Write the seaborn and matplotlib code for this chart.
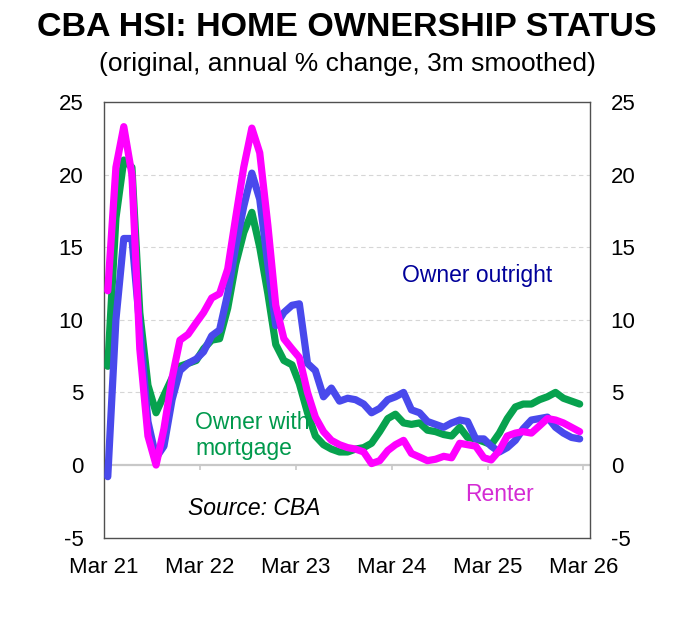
import pandas as pd
import numpy as np
import matplotlib
matplotlib.use("Agg")
import matplotlib.pyplot as plt
import seaborn as sns

# monthly data, Mar 2021 - Feb 2026 (annual % change, 3m smoothed)
months = pd.date_range("2021-03-01", periods=60, freq="MS") + pd.Timedelta(days=14)

owner_outright = [
    -0.8, 10.0, 15.6, 15.6, 9.5, 3.0, 0.5, 1.3, 4.5, 6.5,
    7.0, 7.3, 7.8, 8.9, 9.3, 11.8, 15.0, 17.8, 20.1, 18.3,
    13.8, 9.6, 10.5, 11.0, 11.1, 7.0, 6.5, 4.7, 5.3, 4.4,
    4.6, 4.5, 4.2, 3.6, 3.9, 4.5, 4.7, 5.0, 3.8, 3.6,
    3.0, 2.8, 2.6, 2.9, 3.1, 3.0, 1.8, 1.8, 1.3, 0.9,
    1.2, 1.7, 2.5, 3.1, 3.2, 3.3, 2.6, 2.2, 1.9, 1.8,
]
owner_mortgage = [
    6.8, 17.0, 21.0, 20.5, 10.5, 5.5, 3.6, 4.8, 6.0, 6.8,
    7.0, 7.2, 8.0, 8.6, 8.7, 10.8, 13.8, 16.0, 17.4, 15.0,
    11.8, 8.3, 7.2, 6.9, 5.6, 3.6, 2.0, 1.4, 1.1, 0.9,
    0.9, 1.1, 1.2, 1.5, 2.3, 3.2, 3.5, 2.9, 2.8, 2.9,
    2.4, 2.3, 2.1, 2.0, 2.6, 1.9, 1.8, 1.6, 1.4, 2.2,
    3.2, 4.0, 4.2, 4.2, 4.5, 4.7, 5.0, 4.6, 4.4, 4.2,
]
renter = [
    12.0, 20.5, 23.3, 20.0, 8.0, 2.0, 0.0, 2.5, 6.0, 8.6,
    9.0, 9.8, 10.5, 11.5, 11.8, 13.5, 17.0, 20.5, 23.2, 21.5,
    16.5, 11.0, 8.7, 8.0, 7.4, 5.0, 3.3, 2.3, 1.7, 1.4,
    1.2, 1.1, 0.9, 0.1, 0.3, 1.0, 1.4, 1.7, 0.8, 0.55,
    0.3, 0.4, 0.6, 0.5, 1.5, 1.4, 1.3, 0.5, 0.35, 1.0,
    2.0, 2.2, 2.3, 2.2, 2.7, 3.2, 3.1, 2.9, 2.6, 2.3,
]

tick_dates = pd.to_datetime(["2021-03-01", "2022-03-01", "2023-03-01",
                             "2024-03-01", "2025-03-01", "2026-03-01"])
tick_labels = ["Mar 21", "Mar 22", "Mar 23", "Mar 24", "Mar 25", "Mar 26"]

df = pd.concat([
    pd.DataFrame({"date": months, "value": owner_mortgage, "series": "Owner with mortgage"}),
    pd.DataFrame({"date": months, "value": owner_outright, "series": "Owner outright"}),
    pd.DataFrame({"date": months, "value": renter, "series": "Renter"}),
])

palette = {
    "Owner with mortgage": "#07A24E",
    "Owner outright": "#4949EC",
    "Renter": "#FF00FF",
}

sns.set_theme(style="white")
plt.rcParams["font.family"] = ["Liberation Sans", "DejaVu Sans"]
plt.rcParams["axes.unicode_minus"] = False
plt.rcParams["text.color"] = "black"

fig = plt.figure(figsize=(6.94, 6.18), dpi=100)
ax = fig.add_axes([0.150, 0.130, 0.700, 0.705])

# light dashed grid + zero line
for y in [5, 10, 15, 20]:
    ax.axhline(y, color="#d6d6d6", lw=0.8, ls=(0, (4, 3)), zorder=0)
ax.axhline(0, color="#c8c8c8", lw=1.6, zorder=1)
ax.vlines(tick_dates, -0.35, 0, color="#c8c8c8", lw=1.2, zorder=1)

sns.lineplot(
    data=df, x="date", y="value", hue="series",
    hue_order=["Owner with mortgage", "Owner outright", "Renter"],
    palette=palette, lw=5.2, legend=False, ax=ax, zorder=3,
)

ax.set_ylim(-5, 25)
ax.set_xlim(pd.Timestamp("2021-03-01"), pd.Timestamp("2026-03-26"))
ax.set_yticks([-5, 0, 5, 10, 15, 20, 25])
ax.set_xticks(tick_dates)
ax.set_xticklabels(tick_labels)
ax.set_xlabel("")
ax.set_ylabel("")
ax.tick_params(axis="both", length=0, labelsize=16, colors="black")
ax.tick_params(axis="y", pad=15, labelright=True, right=False)
ax.tick_params(axis="x", pad=14)
for s in ax.spines.values():
    s.set_visible(True)
    s.set_color("#505050")
    s.set_linewidth(1.0)

# series labels
ax.text(0.613, 0.602, "Owner outright", transform=ax.transAxes,
        color="#00009A", fontsize=16.5, va="center", ha="left")
ax.text(0.187, 0.235, "Owner with\nmortgage", transform=ax.transAxes,
        color="#00994C", fontsize=16.5, va="center", ha="left", linespacing=1.15)
ax.text(0.743, 0.098, "Renter", transform=ax.transAxes,
        color="#D42BD4", fontsize=16.5, va="center", ha="left")
ax.text(0.173, 0.068, "Source: CBA", transform=ax.transAxes,
        color="black", fontsize=16.5, style="italic", va="center", ha="left")

fig.text(0.5, 0.955, "CBA HSI: HOME OWNERSHIP STATUS", ha="center", va="center",
         fontsize=24.5, fontweight="bold", color="black")
fig.text(0.5, 0.897, "(original, annual % change, 3m smoothed)", ha="center",
         va="center", fontsize=19, color="black")

fig.savefig("out.png", dpi=100, facecolor="white")
